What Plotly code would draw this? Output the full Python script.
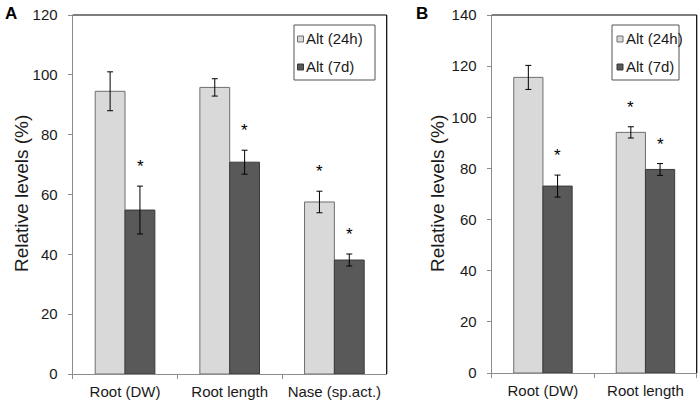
import plotly.graph_objects as go
from plotly.subplots import make_subplots

# panel A
categories_a = ["Root (DW)", "Root length", "Nase (sp.act.)"]
alt24_a = [94.5, 95.8, 57.5]
alt24_a_err = [6.5, 2.9, 3.6]
alt7_a = [54.8, 70.8, 38.1]
alt7_a_err = [8.0, 4.0, 2.0]
sig24_a = [False, False, True]
sig7_a = [True, True, True]

# panel B
categories_b = ["Root (DW)", "Root length"]
alt24_b = [115.6, 94.1]
alt24_b_err = [4.7, 2.2]
alt7_b = [73.1, 79.6]
alt7_b_err = [4.3, 2.3]
sig24_b = [False, True]
sig7_b = [True, True]

series_names = ["Alt (24h)", "Alt (7d)"]
y_title = "Relative levels (%)"

FONT = "Arial, Liberation Sans, sans-serif"
LIGHT = "#d9d9d9"
DARK = "#595959"
LIGHT_EDGE = "#6e6e6e"
DARK_EDGE = "#3a3a3a"
AXIS_GRAY = "#8c8c8c"
TXT = "#1a1a1a"
W, H = 700, 402

fig = make_subplots(rows=1, cols=2)


def add_panel(col, cats, v24, e24, v7, e7):
    fig.add_trace(go.Bar(
        x=cats, y=v24, name=series_names[0], showlegend=False,
        marker=dict(color=LIGHT, line=dict(color=LIGHT_EDGE, width=1)),
        error_y=dict(type="data", array=e24, color="black", thickness=1, width=3),
    ), row=1, col=col)
    fig.add_trace(go.Bar(
        x=cats, y=v7, name=series_names[1], showlegend=False,
        marker=dict(color=DARK, line=dict(color=DARK_EDGE, width=1)),
        error_y=dict(type="data", array=e7, color="black", thickness=1, width=3),
    ), row=1, col=col)


add_panel(1, categories_a, alt24_a, alt24_a_err, alt7_a, alt7_a_err)
add_panel(2, categories_b, alt24_b, alt24_b_err, alt7_b, alt7_b_err)


def add_stars(xref, yref, cats, vals, errs, sig, shift):
    for c, v, e, s in zip(cats, vals, errs, sig):
        if s:
            fig.add_annotation(x=c, y=v + e, xref=xref, yref=yref, text="*",
                               showarrow=False, xshift=shift, yshift=8,
                               yanchor="bottom", font=dict(family=FONT, size=17, color="black"))


add_stars("x", "y", categories_a, alt24_a, alt24_a_err, sig24_a, -15)
add_stars("x", "y", categories_a, alt7_a, alt7_a_err, sig7_a, 15)
add_stars("x2", "y2", categories_b, alt24_b, alt24_b_err, sig24_b, -15)
add_stars("x2", "y2", categories_b, alt7_b, alt7_b_err, sig7_b, 15)

# black top/right frame lines
for xd, yd in [("x domain", "y domain"), ("x2 domain", "y2 domain")]:
    fig.add_shape(type="line", xref=xd, yref=yd, x0=0, x1=1, y0=1, y1=1,
                  line=dict(color="black", width=1.2))
    fig.add_shape(type="line", xref=xd, yref=yd, x0=1, x1=1, y0=0, y1=1,
                  line=dict(color="black", width=1.2))


# hand-made legend boxes (small square markers like the original)
def add_legend_box(x0, x1, y0, y1, sq_x):
    fig.add_shape(type="rect", xref="paper", yref="paper",
                  x0=x0 / W, x1=x1 / W, y0=1 - y1 / H, y1=1 - y0 / H,
                  line=dict(color="#555555", width=1), fillcolor="white")
    for name, yc, fill, edge in [(series_names[0], 39, LIGHT, LIGHT_EDGE),
                                 (series_names[1], 67, DARK, DARK_EDGE)]:
        fig.add_shape(type="rect", xref="paper", yref="paper",
                      x0=sq_x / W, x1=(sq_x + 6) / W,
                      y0=1 - (yc + 3) / H, y1=1 - (yc - 3) / H,
                      line=dict(color=edge, width=1), fillcolor=fill)
        fig.add_annotation(x=(sq_x + 6.5) / W, y=1 - yc / H, xref="paper", yref="paper",
                           text=name, showarrow=False, xanchor="left", yanchor="middle",
                           font=dict(family=FONT, size=15, color=TXT))


add_legend_box(294, 375, 25, 80, 297.5)
add_legend_box(612, 679, 25, 80, 617)

# panel letters and y titles
for letter, lx, tx in [("A", 3, 21), ("B", 414, 437)]:
    fig.add_annotation(x=lx / W, y=1 - 2 / H, xref="paper", yref="paper", text=f"<b>{letter}</b>",
                       showarrow=False, xanchor="left", yanchor="top",
                       font=dict(family=FONT, size=17, color="black"))
    fig.add_annotation(x=tx / W, y=1 - 194 / H, xref="paper", yref="paper", text=y_title,
                       showarrow=False, textangle=-90, xanchor="center", yanchor="middle",
                       font=dict(family=FONT, size=19, color=TXT))

xaxis_style = dict(showline=True, linecolor=AXIS_GRAY, linewidth=1.2, ticks="outside",
                   tickson="boundaries", ticklen=4, tickcolor=AXIS_GRAY, automargin=False,
                   showgrid=False, ticklabelstandoff=4,
                   tickfont=dict(family=FONT, size=15, color=TXT))
yaxis_style = dict(showline=True, linecolor=AXIS_GRAY, linewidth=1.2, ticks="outside",
                   ticklen=4, tickcolor=AXIS_GRAY, showgrid=False, zeroline=False,
                   automargin=False, ticklabelstandoff=7, dtick=20,
                   tickfont=dict(family=FONT, size=15, color=TXT))

fig.update_xaxes(**xaxis_style)
fig.update_yaxes(**yaxis_style)
fig.update_xaxes(domain=[72.7 / W, 386.7 / W], row=1, col=1)
fig.update_xaxes(domain=[491.7 / W, 696.7 / W], row=1, col=2)
fig.update_yaxes(domain=[28 / H, 387 / H], range=[0, 120], row=1, col=1)
fig.update_yaxes(domain=[29 / H, 387 / H], range=[0, 140], row=1, col=2)

fig.update_layout(
    width=W, height=H,
    margin=dict(l=0, r=0, t=0, b=0),
    plot_bgcolor="white", paper_bgcolor="white",
    barmode="group", bargap=0.43, bargroupgap=0,
)

# the page's default 8px body margin would shift the whole figure
fig.write_html("out.html", config={"displayModeBar": False},
               post_script="document.body.style.margin='0';")
